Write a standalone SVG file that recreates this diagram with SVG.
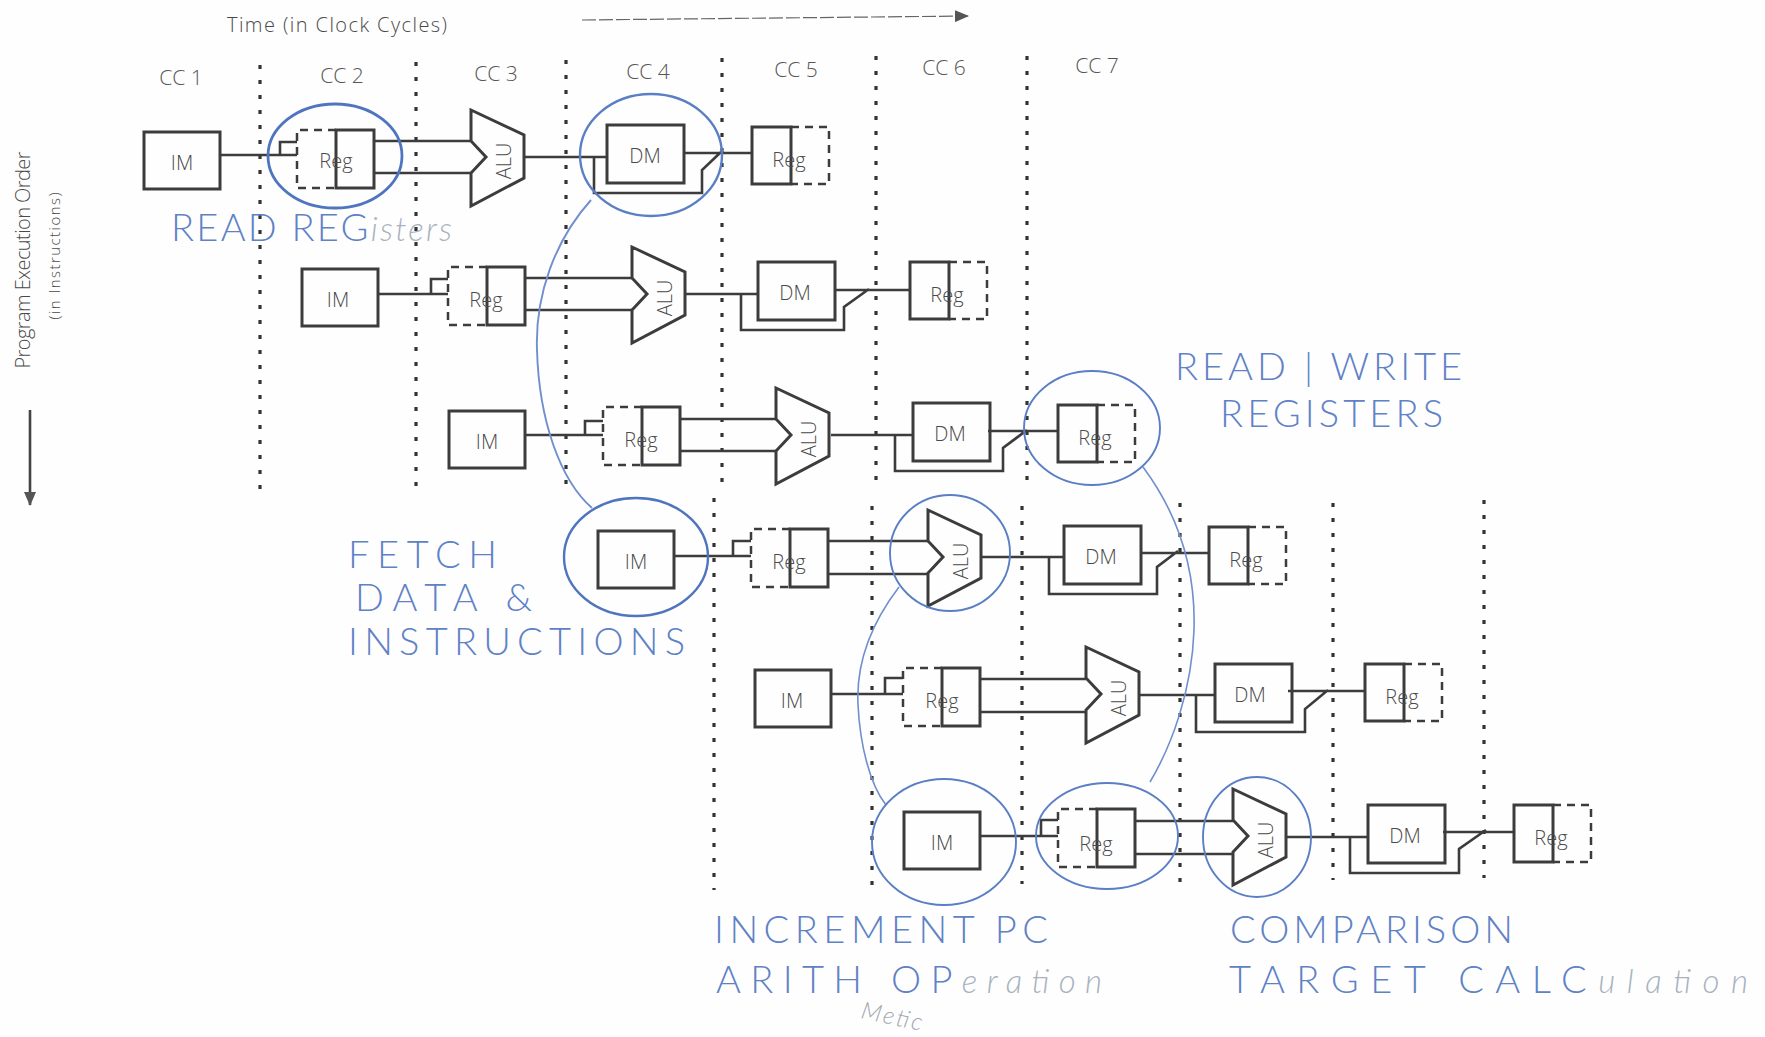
<svg xmlns="http://www.w3.org/2000/svg" width="1765" height="1037" viewBox="0 0 1765 1037">
<style>
text{font-family:"Open Sans","Liberation Sans",sans-serif;fill:#4a4a4a}
.box{fill:none;stroke:#3c3c3c;stroke-width:3}
.dash{fill:none;stroke:#3c3c3c;stroke-width:2.5;stroke-dasharray:8 6}
.alu{fill:#fff;fill-opacity:0;stroke:#3c3c3c;stroke-width:3;stroke-linejoin:miter}
.wire{fill:none;stroke:#3c3c3c;stroke-width:2.6}
.lbl{font-size:20px;font-weight:300;text-anchor:middle}
.cc{font-size:21px;font-weight:300;text-anchor:middle;fill:#555}
.dots{fill:none;stroke:#333;stroke-width:3.2;stroke-dasharray:4 11}
.ring{fill:none;stroke:#5b7fc4;stroke-width:1.9}
.ring2{fill:none;stroke:#4f75bf;stroke-width:2.8}
.link{fill:none;stroke:#6f8fce;stroke-width:1.6}
.hand{font-family:"Lato","Open Sans",sans-serif;font-weight:300;font-size:38px;fill:#5f82c6}
.pale{fill:#a9b2c0;font-style:italic;font-size:33px}
.note{font-family:"Lato","Open Sans",sans-serif;font-style:italic;font-weight:300;font-size:24px;fill:#a0a6b0}
</style>
<defs>
<marker id="tip2" markerWidth="14" markerHeight="12" refX="13" refY="6" orient="auto" markerUnits="userSpaceOnUse"><path d="M0 0L14 6L0 12Z" fill="#555"/></marker>
</defs>
<rect width="1765" height="1037" fill="#fefefe"/>

<g id="axes">
<text x="337" y="32" font-size="20" font-weight="300" text-anchor="middle" fill="#555" textLength="220">Time (in Clock Cycles)</text>
<text class="cc" x="181" y="85">CC 1</text>
<text class="cc" x="342" y="83">CC 2</text>
<text class="cc" x="496" y="81">CC 3</text>
<text class="cc" x="648" y="79">CC 4</text>
<text class="cc" x="796" y="77">CC 5</text>
<text class="cc" x="944" y="75">CC 6</text>
<text class="cc" x="1097" y="73">CC 7</text>
<text transform="rotate(-90 30 260)" x="30" y="260" font-size="20" font-weight="300" text-anchor="middle" textLength="217">Program Execution Order</text>
<text transform="rotate(-90 60 256)" x="60" y="256" font-size="15" font-weight="300" text-anchor="middle" textLength="127">(in Instructions)</text>
</g>

<g id="cycle-lines">
<path class="dots" d="M260 65V490"/><path class="dots" d="M416 62V488"/><path class="dots" d="M566 60V485"/><path class="dots" d="M722 58V485"/><path class="dots" d="M876 56V480"/><path class="dots" d="M1027 56V480"/>
<path class="dots" d="M714 498V890"/><path class="dots" d="M872 506V888"/><path class="dots" d="M1022 506V884"/><path class="dots" d="M1180 503V884"/><path class="dots" d="M1333 503V880"/><path class="dots" d="M1484 500V878"/>
</g>

<g id="connectors">
<path d="M582 20L968 16" fill="none" stroke="#666" stroke-width="1.2" stroke-dasharray="14 3" marker-end="url(#tip2)"/>
<path d="M30 410V505" fill="none" stroke="#444" stroke-width="2.6" marker-end="url(#tip2)"/>
<path class="wire" d="M221 155H297M280 155V142H297M374 141H471M374 173H471M525 157H607M594 157V193H702V170L721 152M685 153H752"/>
<path class="wire" d="M377 294H448M431 294V279H448M525 278H632M525 310H632M686 294H758M741 294V330H844V307L869 289M834 290H910"/>
<path class="wire" d="M525 435H603M585 435V421H603M680 419H776M680 451H776M831 435H913M895 435V471H1003V448L1027 430M988 431H1058"/>
<path class="wire" d="M675 556H751M733 556V541H751M828 541H928M828 574H928M981 557H1064M1049 557V594H1157V567L1178 551M1140 553H1209"/>
<path class="wire" d="M831 694H903M885 694V678H903M979 679H1086M979 712H1086M1140 695H1215M1196 695V732H1305V709L1328 690M1288 691H1365"/>
<path class="wire" d="M979 836H1058M1041 836V820H1058M1136 821H1233M1136 854H1233M1285 837H1368M1350 837V873H1459V849L1486 830M1443 832H1514"/>
<path class="link" d="M591 200C555 240 535 295 537 350C539 420 560 480 592 508" style="stroke-width:1.9"/>
<path class="link" d="M1143 467C1175 510 1196 565 1194 630C1192 690 1172 745 1150 782"/>
<path class="link" d="M899 587C870 625 856 665 858 705C860 745 870 785 886 805"/>
</g>

<g id="row1-im" transform="translate(144 132)"><rect class="box" width="76" height="57"/><text class="lbl" x="38" y="38">IM</text></g>
<g id="row1-reg" transform="translate(297 130)"><path class="dash" d="M39 0H0V58H39"/><rect class="box" x="39" width="38" height="58"/><text class="lbl" x="39" y="38">Reg</text></g>
<g id="row1-alu" transform="translate(471 110)"><path class="alu" d="M0 0L53 25V68L0 96V63L15 47L0 31Z"/><text class="lbl" transform="rotate(-90 40 51)" x="40" y="51">ALU</text></g>
<g id="row1-dm" transform="translate(607 125)"><rect class="box" width="77" height="58"/><text class="lbl" x="38" y="38">DM</text></g>
<g id="row1-wb" transform="translate(752 127)"><path class="dash" d="M39 0H77V57H39"/><rect class="box" width="39" height="57"/><text class="lbl" x="37" y="40">Reg</text></g>

<g id="row2-im" transform="translate(302 269)"><rect class="box" width="76" height="57"/><text class="lbl" x="36" y="38">IM</text></g>
<g id="row2-reg" transform="translate(448 267)"><path class="dash" d="M39 0H0V58H39"/><rect class="box" x="39" width="38" height="58"/><text class="lbl" x="38" y="40">Reg</text></g>
<g id="row2-alu" transform="translate(632 247)"><path class="alu" d="M0 0L53 25V68L0 96V63L15 47L0 31Z"/><text class="lbl" transform="rotate(-90 40 51)" x="40" y="51">ALU</text></g>
<g id="row2-dm" transform="translate(758 262)"><rect class="box" width="77" height="58"/><text class="lbl" x="37" y="38">DM</text></g>
<g id="row2-wb" transform="translate(910 262)"><path class="dash" d="M39 0H77V57H39"/><rect class="box" width="39" height="57"/><text class="lbl" x="37" y="40">Reg</text></g>

<g id="row3-im" transform="translate(449 411)"><rect class="box" width="76" height="57"/><text class="lbl" x="38" y="38">IM</text></g>
<g id="row3-reg" transform="translate(603 407)"><path class="dash" d="M39 0H0V58H39"/><rect class="box" x="39" width="38" height="58"/><text class="lbl" x="38" y="40">Reg</text></g>
<g id="row3-alu" transform="translate(776 388)"><path class="alu" d="M0 0L53 25V68L0 96V63L15 47L0 31Z"/><text class="lbl" transform="rotate(-90 40 51)" x="40" y="51">ALU</text></g>
<g id="row3-dm" transform="translate(913 403)"><rect class="box" width="77" height="58"/><text class="lbl" x="37" y="38">DM</text></g>
<g id="row3-wb" transform="translate(1058 405)"><path class="dash" d="M39 0H77V57H39"/><rect class="box" width="39" height="57"/><text class="lbl" x="37" y="40">Reg</text></g>

<g id="row4-im" transform="translate(598 531)"><rect class="box" width="76" height="57"/><text class="lbl" x="38" y="38">IM</text></g>
<g id="row4-reg" transform="translate(751 529)"><path class="dash" d="M39 0H0V58H39"/><rect class="box" x="39" width="38" height="58"/><text class="lbl" x="38" y="40">Reg</text></g>
<g id="row4-alu" transform="translate(928 510)"><path class="alu" d="M0 0L53 25V68L0 96V63L15 47L0 31Z"/><text class="lbl" transform="rotate(-90 40 51)" x="40" y="51">ALU</text></g>
<g id="row4-dm" transform="translate(1064 526)"><rect class="box" width="77" height="58"/><text class="lbl" x="37" y="38">DM</text></g>
<g id="row4-wb" transform="translate(1209 527)"><path class="dash" d="M39 0H77V57H39"/><rect class="box" width="39" height="57"/><text class="lbl" x="37" y="40">Reg</text></g>

<g id="row5-im" transform="translate(755 670)"><rect class="box" width="76" height="57"/><text class="lbl" x="37" y="38">IM</text></g>
<g id="row5-reg" transform="translate(903 668)"><path class="dash" d="M39 0H0V58H39"/><rect class="box" x="39" width="38" height="58"/><text class="lbl" x="39" y="40">Reg</text></g>
<g id="row5-alu" transform="translate(1086 647)"><path class="alu" d="M0 0L53 25V68L0 96V63L15 47L0 31Z"/><text class="lbl" transform="rotate(-90 40 51)" x="40" y="51">ALU</text></g>
<g id="row5-dm" transform="translate(1215 664)"><rect class="box" width="77" height="58"/><text class="lbl" x="35" y="38">DM</text></g>
<g id="row5-wb" transform="translate(1365 664)"><path class="dash" d="M39 0H77V57H39"/><rect class="box" width="39" height="57"/><text class="lbl" x="37" y="40">Reg</text></g>

<g id="row6-im" transform="translate(904 812)"><rect class="box" width="76" height="57"/><text class="lbl" x="38" y="38">IM</text></g>
<g id="row6-reg" transform="translate(1058 809)"><path class="dash" d="M39 0H0V58H39"/><rect class="box" x="39" width="38" height="58"/><text class="lbl" x="38" y="42">Reg</text></g>
<g id="row6-alu" transform="translate(1233 789)"><path class="alu" d="M0 0L53 25V68L0 96V63L15 47L0 31Z"/><text class="lbl" transform="rotate(-90 40 51)" x="40" y="51">ALU</text></g>
<g id="row6-dm" transform="translate(1368 805)"><rect class="box" width="77" height="58"/><text class="lbl" x="37" y="38">DM</text></g>
<g id="row6-wb" transform="translate(1514 805)"><path class="dash" d="M39 0H77V57H39"/><rect class="box" width="39" height="57"/><text class="lbl" x="37" y="40">Reg</text></g>

<g id="annotation-rings">
<ellipse class="ring2" cx="335" cy="156" rx="67" ry="52"/>
<ellipse class="ring" cx="651" cy="155" rx="71" ry="61" style="stroke-width:2.4"/>
<ellipse class="ring2" cx="636" cy="557" rx="72" ry="59" style="stroke-width:2.4"/>
<ellipse class="ring" cx="1092" cy="428" rx="68" ry="57"/>
<ellipse class="ring" cx="950" cy="553" rx="60" ry="58"/>
<ellipse class="ring" cx="944" cy="842" rx="72" ry="63"/>
<ellipse class="ring" cx="1107" cy="836" rx="71" ry="53"/>
<ellipse class="ring" cx="1257" cy="837" rx="54" ry="60"/>
</g>

<g id="handwriting">
<text class="hand" x="171" y="241" textLength="281">READ REG<tspan class="pale">isters</tspan></text>
<text class="hand" x="348" y="568" textLength="149">FETCH</text>
<text class="hand" x="355" y="611" textLength="177">DATA &amp;</text>
<text class="hand" x="348" y="655" textLength="337">INSTRUCTIONS</text>
<text class="hand" x="1175" y="380" textLength="287">READ | WRITE</text>
<text class="hand" x="1220" y="427" textLength="223">REGISTERS</text>
<text class="hand" x="714" y="943" textLength="334">INCREMENT PC</text>
<text class="hand" x="716" y="993" textLength="386">ARITH OP<tspan class="pale">eration</tspan></text>
<text class="note" x="860" y="1018" textLength="62" transform="rotate(12 860 1018)">Metic</text>
<text class="hand" x="1230" y="943" textLength="283">COMPARISON</text>
<text class="hand" x="1229" y="993" textLength="519">TARGET CALC<tspan class="pale">ulation</tspan></text>
</g>
</svg>
